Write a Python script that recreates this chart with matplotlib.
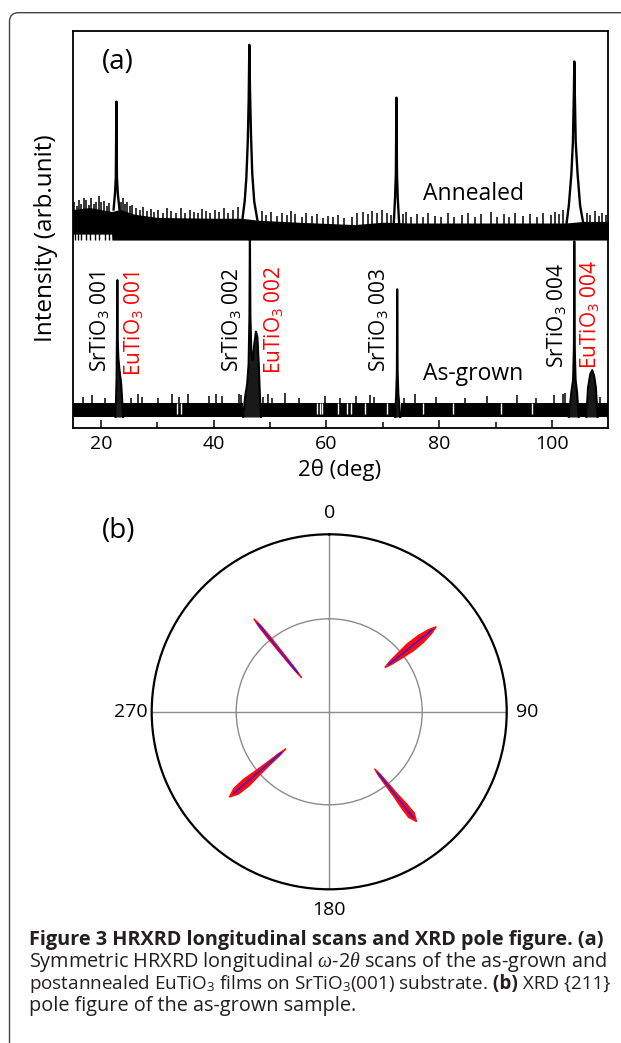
import numpy as np
import matplotlib
matplotlib.use('Agg')
import matplotlib.pyplot as plt
from matplotlib.patches import FancyBboxPatch, Polygon

plt.rcParams['font.family'] = ['Open Sans', 'DejaVu Sans']
plt.rcParams['mathtext.fontset'] = 'custom'
plt.rcParams['mathtext.rm'] = 'Open Sans'
plt.rcParams['mathtext.it'] = 'Liberation Serif:italic'
plt.rcParams['mathtext.bf'] = 'Open Sans:bold'

W, H = 621, 1043
# ---------------- panel (a) data ----------------
two_theta_lim = [15, 110]
xticks_major = [20, 40, 60, 80, 100]
xticks_minor = [30, 50, 70, 90]

# Annealed: noise band (solid part) and spikes
ann_band_x = [15, 18, 21.9, 21.95, 23.4, 26, 30, 40, 45.0, 47.9, 55, 60, 65, 70, 75, 85, 95, 102.5, 105.6, 110]
ann_band_lo = [48.8, 48.8, 48.8, 47.3, 47.3, 47.3, 47.3, 47.3, 47.3, 47.3, 47.3, 47.3, 47.3, 47.3, 47.3, 47.3, 47.3, 47.3, 47.3, 47.3]
ann_band_hi = [55.0, 55.5, 54.5, 54.5, 55.0, 53.8, 53.0, 52.8, 52.8, 52.3, 51.8, 51.5, 51.2, 51.8, 51.6, 51.6, 51.6, 51.6, 52.0, 52.0]
ann_root_x = [15.4, 15.9, 16.5, 17.3, 18.0, 18.9, 19.6, 20.8, 21.5]
ann_spike_x = [15.3, 15.8, 16.2, 16.5, 17.0, 17.4, 17.9, 18.3, 18.8, 19.2, 19.7, 20.1, 20.6, 21.0, 21.4,
               23.6, 23.9, 24.3, 24.6, 25.1, 25.6, 26.3, 26.9, 27.5, 28.1, 28.8, 29.5, 30.2, 31.0, 31.8,
               32.5, 33.4, 34.2, 35.0, 35.8, 36.5, 37.2, 37.9, 38.6, 39.4, 40.2, 41.0, 41.8, 42.6, 43.5,
               44.3, 48.5, 49.3, 50.2, 51.3, 52.1, 53.0, 53.7, 54.4, 55.6, 56.4, 57.5, 58.3, 59.4, 60.2,
               61.1, 62.0, 63.2, 64.5, 65.4, 66.5, 67.3, 68.1, 69.0, 69.9, 70.8, 71.4, 73.5, 74.1, 75.0,
               76.0, 77.1, 78.0, 79.2, 80.3, 81.5, 82.6, 84.0, 85.1, 86.4, 87.5, 89.2, 90.3, 91.5, 92.4,
               93.4, 94.8, 96.2, 97.3, 98.5, 99.8, 100.6, 101.2, 101.9, 106.2, 106.8, 107.6, 108.3, 108.9, 109.6]
ann_spike_y = [57.0, 56.0, 57.5, 56.5, 58.0, 57.4, 56.2, 57.8, 56.4, 57.0, 58.4, 56.8, 57.2, 56.0, 56.6,
               56.8, 58.0, 56.5, 57.0, 55.8, 56.2, 55.5, 54.8, 55.6, 54.6, 55.2, 54.4, 55.0, 54.2, 55.4,
               54.6, 54.0, 55.3, 54.2, 55.0, 54.4, 54.0, 55.2, 54.6, 54.0, 54.8, 54.4, 55.4, 54.2, 55.0,
               55.6, 54.6, 53.6, 54.4, 53.4, 54.0, 53.6, 54.6, 53.8, 53.2, 54.2, 53.4, 53.8, 52.8, 53.4,
               53.0, 53.6, 52.8, 53.2, 54.0, 54.4, 53.8, 54.6, 54.0, 55.0, 54.2, 53.6, 53.8, 54.4, 53.2,
               53.8, 53.0, 54.2, 53.4, 53.0, 54.0, 53.2, 53.6, 54.2, 53.0, 53.8, 54.4, 53.2, 53.8, 53.0,
               54.2, 53.4, 53.8, 53.0, 54.0, 53.6, 54.4, 53.8, 54.8, 54.2, 53.6, 54.6, 53.4, 54.0, 53.6]
ann_peak_001_x = [22.25, 22.5, 22.65, 22.75, 22.85, 23.0, 23.3]
ann_peak_001_y = [55.0, 59.0, 63.0, 82.2, 63.0, 59.0, 55.0]
ann_peak_002_x = [45.1, 45.5, 45.8, 46.05, 46.22, 46.33, 46.45, 46.62, 46.85, 47.2, 47.8]
ann_peak_002_y = [52.5, 57.0, 63.0, 72.0, 83.0, 96.5, 85.0, 74.0, 64.0, 57.0, 52.0]
ann_peak_003_x = [71.95, 72.18, 72.32, 72.42, 72.52, 72.65, 72.9]
ann_peak_003_y = [51.5, 58.0, 64.0, 83.2, 64.0, 58.0, 51.5]
ann_peak_004_x = [102.6, 103.0, 103.45, 103.72, 103.9, 103.97, 104.05, 104.22, 104.55, 105.0, 105.5]
ann_peak_004_y = [51.6, 56.0, 64.0, 72.0, 85.0, 92.3, 85.0, 72.0, 64.0, 56.0, 52.0]

# As-grown: noise band segments, spikes, gaps
ag_seg_start = [15.0, 23.95, 48.4, 73.15, 104.75, 108.1]
ag_seg_end = [22.6, 45.2, 72.15, 103.0, 106.1, 110.0]
ag_band_lo = 2.7
ag_band_hi = 6.3
ag_spike_x = [16.9, 18.4, 20.7, 25.3, 26.6, 27.3, 30.1, 32.7, 33.9, 35.5, 39.1, 40.4, 41.4,
              44.5, 44.8, 48.7, 49.6, 50.4, 52.6, 55.2, 59.7, 62.5, 65.3, 67.8, 68.5, 73.8,
              75.7, 79.4, 84.6, 88.5, 93.8, 97.1, 100.3, 101.9, 102.4, 108.6]
ag_spike_y = [7.8, 8.2, 7.6, 7.4, 8.4, 7.8, 7.5, 8.4, 7.7, 8.5, 8.1, 8.6, 7.9,
              8.6, 8.2, 7.8, 8.5, 7.6, 8.7, 7.5, 7.9, 7.6, 8.0, 8.3, 7.8, 7.6,
              8.4, 7.7, 7.5, 8.0, 8.3, 7.6, 8.2, 8.6, 8.8, 7.8]
ag_gap_x = [33.5, 34.2, 58.3, 58.8, 59.3, 62.0, 63.6, 64.3, 66.9, 70.8, 77.2, 82.5, 91.0, 96.4]
ag_peak_001_x = [22.6, 22.78, 22.86, 22.92, 22.99, 23.1, 23.3, 23.6, 23.95]
ag_peak_001_y = [2.7, 12.0, 25.0, 37.2, 22.0, 17.5, 14.5, 11.0, 2.7]
ag_peak_002_x = [45.25, 45.6, 45.95, 46.2, 46.35, 46.43, 46.52, 46.7, 46.93, 47.2, 47.5, 47.75, 48.0, 48.2, 48.4]
ag_peak_002_y = [2.7, 8.0, 11.0, 16.0, 28.0, 50.0, 28.0, 18.0, 17.0, 21.0, 24.2, 23.0, 16.0, 8.0, 2.7]
ag_peak_003_x = [72.2, 72.38, 72.5, 72.56, 72.63, 72.76, 73.1]
ag_peak_003_y = [2.7, 8.5, 14.0, 34.9, 14.0, 8.5, 2.7]
ag_peak_004_x = [103.0, 103.45, 103.75, 103.9, 103.97, 104.05, 104.2, 104.45, 104.75]
ag_peak_004_y = [2.7, 9.0, 12.0, 20.0, 47.0, 20.0, 12.0, 9.0, 2.7]
ag_peak_eu004_x = [106.1, 106.4, 106.8, 107.16, 107.5, 107.8, 108.1]
ag_peak_eu004_y = [2.7, 10.0, 13.5, 14.5, 13.0, 10.0, 2.7]

label_text = ['SrTiO$_3$ 001', 'EuTiO$_3$ 001', 'SrTiO$_3$ 002', 'EuTiO$_3$ 002',
              'SrTiO$_3$ 003', 'SrTiO$_3$ 004', 'EuTiO$_3$ 004']
label_x = [19.8, 25.78, 43.2, 50.58, 69.3, 100.8, 106.58]
label_y = [14.1, 13.0, 14.1, 13.5, 14.1, 15.0, 14.8]
label_color = ['black', 'red', 'black', 'red', 'black', 'black', 'red']

# ---------------- panel (b) data ----------------
pole_phi = [321.0, 51.5, 229.5, 141.5]            # azimuth (deg)
pole_r_in = [0.245, 0.40, 0.32, 0.41]
pole_r_out = [0.675, 0.77, 0.74, 0.79]
pole_frac = [0.0, 0.12, 0.3, 0.5, 0.7, 0.88, 1.0]
pole_halfwidth = [
    [0.0, 0.004, 0.006, 0.007, 0.008, 0.006, 0.0],
    [0.0, 0.010, 0.018, 0.026, 0.024, 0.014, 0.0],
    [0.0, 0.006, 0.010, 0.016, 0.024, 0.020, 0.0],
    [0.0, 0.006, 0.009, 0.012, 0.018, 0.020, 0.0],
]
inner_ring = 0.524

# ---------------- figure ----------------
fig = plt.figure(figsize=(W / 100, H / 100), dpi=100)
fig.patch.set_facecolor('white')

frame = FancyBboxPatch((0.095, -0.3), 7.0, (H - 12.7) / 100 + 0.3,
                       boxstyle='round,pad=0,rounding_size=0.09',
                       transform=fig.dpi_scale_trans, fill=False,
                       edgecolor='#444444', lw=1.0)
fig.patches.append(frame)

def fx(px):
    return px / W

def fy(py):
    return 1 - py / H

ax = fig.add_axes([fx(72.7), fy(427.7), fx(608.3) - fx(72.7), fy(31) - fy(427.7)])
ax.set_xlim(two_theta_lim)
ax.set_ylim(0, 100)
ax.set_yticks([])
ax.set_xticks(xticks_major)
ax.set_xticks(xticks_minor, minor=True)
ax.tick_params(axis='x', which='major', direction='in', length=6, width=1.1, labelsize=14, pad=5)
ax.tick_params(axis='x', which='minor', direction='in', length=4, width=1.1)
for s in ax.spines.values():
    s.set_linewidth(1.3)

# annealed
ax.fill_between(ann_band_x, ann_band_lo, ann_band_hi, color='k', lw=0)
ax.vlines(ann_root_x, 47.3, 49.0, color='k', lw=1.0)
ax.vlines(ann_spike_x, 49.0, ann_spike_y, color='k', lw=1.1)
for px_, py_ in [(ann_peak_001_x, ann_peak_001_y), (ann_peak_002_x, ann_peak_002_y),
                 (ann_peak_003_x, ann_peak_003_y), (ann_peak_004_x, ann_peak_004_y)]:
    ax.plot(px_, py_, color='k', lw=1.7)

# as-grown
for a, b in zip(ag_seg_start, ag_seg_end):
    ax.fill_between([a, b], ag_band_lo, ag_band_hi, color='k', lw=0)
ax.vlines(ag_spike_x, ag_band_lo, ag_spike_y, color='k', lw=1.1)
ax.vlines(ag_gap_x, 3.4, ag_band_hi, color='white', lw=1.0)
for px_, py_ in [(ag_peak_001_x, ag_peak_001_y), (ag_peak_002_x, ag_peak_002_y),
                 (ag_peak_003_x, ag_peak_003_y), (ag_peak_004_x, ag_peak_004_y),
                 (ag_peak_eu004_x, ag_peak_eu004_y)]:
    ax.fill_between(px_, ag_band_lo, py_, color='k', lw=0, alpha=0.9)
    ax.plot(px_, py_, color='k', lw=1.5)

for t, x, y, c in zip(label_text, label_x, label_y, label_color):
    ax.text(x, y, t, rotation=90, ha='center', va='bottom', color=c, fontsize=15)

ax.text(77.13, 57.4, 'Annealed', ha='left', va='baseline', fontsize=16.5)
ax.text(77.13, 12.0, 'As-grown', ha='left', va='baseline', fontsize=16.5)
ax.text(20.2, 92.2, '(a)', ha='left', va='center', fontsize=20)

fig.text(fx(45.5), fy(238), 'Intensity (arb.unit)', rotation=90, ha='center', va='center', fontsize=17.5)
fig.text(fx(340), fy(470), '2θ (deg)', ha='center', va='center', fontsize=16)

# ---------------- panel (b) ----------------
R = 177.5
cx, cy = 329.2, 711.8
axp = fig.add_axes([fx(cx - R), fy(cy + R), 2 * R / W, 2 * R / H], projection='polar')
axp.set_theta_zero_location('N')
axp.set_theta_direction(-1)
axp.set_rlim(0, 1)
axp.set_thetagrids([0, 90, 180, 270], labels=['0', '90', '180', '270'], fontsize=14)
axp.set_rgrids([inner_ring], labels=[''])
axp.grid(color='#8c8c8c', lw=1.0)
axp.spines['polar'].set_linewidth(1.6)
axp.set_xticks(np.deg2rad([45, 135, 225, 315]), minor=True)
axp.tick_params(axis='x', which='both', direction='in', length=5, width=1.2, pad=8)

for phi, r0, r1, hw in zip(pole_phi, pole_r_in, pole_r_out, pole_halfwidth):
    p = np.deg2rad(phi)
    ux, uy = np.sin(p), np.cos(p)
    nx, ny = np.cos(p), -np.sin(p)
    rs = [r0 + f * (r1 - r0) for f in pole_frac]
    left = [(r * ux + w * nx, r * uy + w * ny) for r, w in zip(rs, hw)]
    right = [(r * ux - w * nx, r * uy - w * ny) for r, w in zip(rs, hw)]
    pts = left + right[::-1]
    th = [np.arctan2(x, y) for x, y in pts]
    rr = [np.hypot(x, y) for x, y in pts]
    axp.add_patch(Polygon(np.column_stack([th, rr]), closed=True, facecolor='#ff0a0a',
                          edgecolor='#ff0a0a', lw=1.0, zorder=5))
    ra, rb = r0 + 0.08 * (r1 - r0), r0 + 0.92 * (r1 - r0)
    axp.plot([p, p], [ra, rb], color='#1a1aff', lw=1.1, zorder=6)
    axp.plot([p, p], [r0 + 0.3 * (r1 - r0), r0 + 0.8 * (r1 - r0)], color='#7a1a9a', lw=0.8, zorder=6, alpha=0.7)

fig.text(fx(102), fy(531), '(b)', ha='left', va='center', fontsize=20)

# ---------------- caption ----------------
cap_color = '#231f20'
cap_lines = [
    [('Figure 3 HRXRD longitudinal scans and XRD pole figure. (a)', 'bold')],
    [('Symmetric HRXRD longitudinal $\\omega$-2$\\theta$ scans of the as-grown and', 'normal')],
    [('postannealed EuTiO$_3$ films on SrTiO$_3$(001) substrate.', 'normal'),
     (' (b)', 'bold'), (' XRD {211}', 'normal')],
    [('pole figure of the as-grown sample.', 'normal')],
]
cap_base = [945, 967, 989, 1011]
cap_right = [606, 605, 612, None]
x_start = 29.3
renderer = fig.canvas.get_renderer()

def draw_line(pieces, ybase, size, keep=True):
    made = []
    x = x_start
    for s, w in pieces:
        t = fig.text(fx(x), fy(ybase), s, fontsize=size, fontweight=w, ha='left',
                     va='baseline', color=cap_color)
        bb = t.get_window_extent(renderer=renderer)
        x = bb.x1
        made.append(t)
    if not keep:
        for t in made:
            t.remove()
    return x

sizes = []
for pieces, yb, xr in zip(cap_lines[:3], cap_base, cap_right):
    sz = 12.0
    for _ in range(4):
        xe = draw_line(pieces, yb, sz, keep=False)
        sz = sz * (xr - x_start) / (xe - x_start)
    sizes.append(sz)
sizes.append(sizes[1])
for pieces, yb, sz in zip(cap_lines, cap_base, sizes):
    draw_line(pieces, yb, sz)

fig.savefig('out.png', dpi=100, facecolor='white')
